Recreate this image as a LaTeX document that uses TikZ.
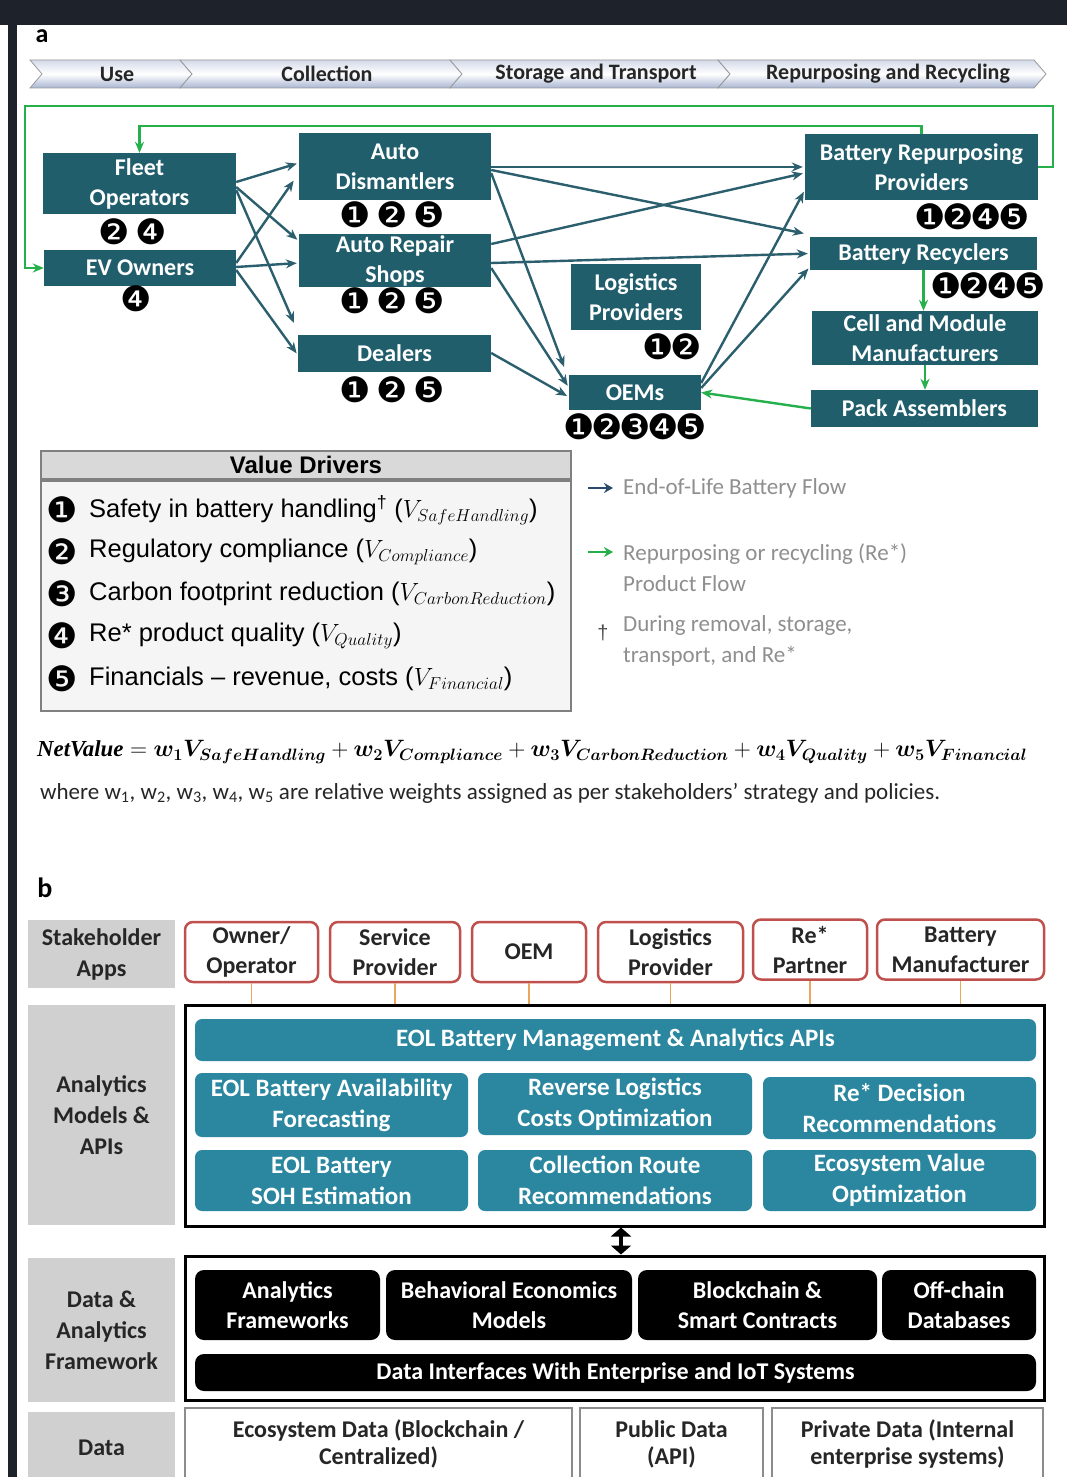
\documentclass[tikz,border=0pt]{standalone}
\usepackage{fontspec}
\usepackage{amsmath}
\usepackage{bm}
\usepackage{graphicx}
\setmainfont{Carlito}
\newfontfamily\dingfont[LetterSpace=-10]{DejaVu Sans}
\newfontfamily\arialfont{Liberation Sans}
\newfontfamily\seriffont{Liberation Serif}
\usetikzlibrary{arrows.meta,positioning,calc}

\definecolor{framedark}{HTML}{1E232B}
\definecolor{actorteal}{HTML}{215E6C}
\definecolor{flowteal}{HTML}{2B5F6D}
\definecolor{regreen}{HTML}{25B04B}
\definecolor{apiteal}{HTML}{2B87A0}
\definecolor{shred}{HTML}{C0504D}
\definecolor{stubtan}{HTML}{E8A75A}
\definecolor{labelgrey}{HTML}{D0D0D0}
\definecolor{legendgrey}{HTML}{8F8F8F}
\definecolor{legendnavy}{HTML}{2C4A6E}
\definecolor{phaseblue}{HTML}{A9B5D3}

\newcommand{\netvalue}{$\text{\seriffont\bfseries\itshape NetValue} = \bm{w_1V_{SafeHandling}} + \bm{w_2V_{Compliance}} + \bm{w_3V_{CarbonReduction}} + \bm{w_4V_{Quality}} + \bm{w_5V_{Financial}}$}

\tikzset{
  actor/.style={fill=actorteal, text=white, align=center, inner sep=0pt,
    font=\fontsize{24}{30}\selectfont\bfseries},
  badge/.style={inner sep=0pt, font=\fontsize{35}{35}\dingfont},
  eol/.style={draw=flowteal, line width=2.4pt, shorten >=2pt,
    -{Stealth[length=11pt,width=9pt]}},
  reflow/.style={draw=regreen, line width=2.4pt,
    -{Stealth[length=11pt,width=9pt]}},
  phase/.style={inner sep=0pt, text=black!85,
    font=\fontsize{22}{26}\selectfont\bfseries},
  vditem/.style={anchor=west, inner sep=0pt, font=\fontsize{25.5}{30}\arialfont},
  legend/.style={anchor=west, inner sep=0pt, align=left, text=legendgrey,
    font=\fontsize{23}{31}\selectfont},
  layerlabel/.style={fill=labelgrey, align=center, inner sep=0pt, minimum width=147pt,
    font=\fontsize{24}{31}\selectfont\bfseries, text=black!85},
  stakeholder/.style={draw=shred, line width=2.5pt, rounded corners=8pt, fill=white,
    align=center, inner sep=0pt, minimum height=60pt,
    font=\fontsize{24}{30}\selectfont\bfseries, text=black!85},
  stub/.style={draw=stubtan, line width=1.3pt},
  layerframe/.style={draw=black, line width=3pt, inner sep=0pt, minimum width=859pt},
  api/.style={fill=apiteal, text=white, rounded corners=7pt, align=center, inner sep=0pt,
    font=\fontsize{25}{31}\selectfont\bfseries},
  infra/.style={fill=black, text=white, rounded corners=9pt, align=center, inner sep=0pt,
    font=\fontsize{24}{30}\selectfont\bfseries},
  datasrc/.style={draw=black!45, line width=1.5pt, fill=white, align=center, inner sep=0pt,
    minimum height=72pt, font=\fontsize{24}{27}\selectfont\bfseries, text=black!85}
}

\begin{document}
\begin{tikzpicture}[x=1pt,y=-1pt]
    \useasboundingbox (0,0) rectangle (1067,1477);
    \clip (0,0) rectangle (1067,1477);
    \fill[white] (0,0) rectangle (1067,1477);

    % Outer frame of the figure
    \fill[framedark] (0,0) rectangle (1067,25);
    \fill[framedark] (8,0) rectangle (17,1477);

    % Panel labels
    \node[font=\fontsize{26}{26}\selectfont\bfseries] (pa) at (42,36) {a};
    \node[font=\fontsize{28}{28}\selectfont\bfseries] (pb) at (45,888) {b};

    % Life-cycle phases
    \foreach \xa/\xb/\lab/\nm in {30/192/Use/use, 180/462/Collection/coll,
        450/730/Storage and Transport/stor, 718/1046/Repurposing and Recycling/repu} {
      \shadedraw[draw=black!40, line width=0.8pt, top color=white!50!phaseblue, bottom color=phaseblue,
        middle color=white]
        (\xa,60) -- (\xb-12,60) -- (\xb,74) -- (\xb-12,88) -- (\xa,88) -- (\xa+12,74) -- cycle;
      \node[phase] (\nm) at ({(\xa+\xb)/2+6},74) {\lab};
    }

    % Stakeholders
    \node[actor, minimum width=193pt, minimum height=61pt] (fleet) at (139.5,183.5) {Fleet\\Operators};
    \node[actor, minimum width=192pt, minimum height=36pt] (ev) at (140,268) {EV Owners};
    \node[actor, minimum width=192pt, minimum height=67pt] (ad) at (395,166.5) {Auto\\Dismantlers};
    \node[actor, minimum width=192pt, minimum height=53pt] (ars) at (395,260.5) {Auto Repair\\Shops};
    \node[actor, minimum width=193pt, minimum height=37pt] (dealers) at (394.5,353.5) {Dealers};
    \node[actor, minimum width=130pt, minimum height=66pt] (logist) at (636,297) {Logistics\\Providers};
    \node[actor, minimum width=132pt, minimum height=35pt] (oems) at (635,392.5) {OEMs};
    \node[actor, minimum width=233pt, minimum height=66pt] (brp) at (921.5,167) {Battery Repurposing\\Providers};
    \node[actor, minimum width=227pt, minimum height=33pt] (recyc) at (923.5,253.5) {Battery Recyclers};
    \node[actor, minimum width=226pt, minimum height=54pt] (cell) at (925,338) {Cell and Module\\Manufacturers};
    \node[actor, minimum width=227pt, minimum height=37pt] (pack) at (924.5,408.5) {Pack Assemblers};

    % Value driver badges
    \node[badge] (fleetb) at (133,232) {❷\,❹};
    \node[badge] (evb) at (136,299) {❹};
    \node[badge] (adb) at (392,215) {❶\,❷\,❺};
    \node[badge] (arsb) at (392,301) {❶\,❷\,❺};
    \node[badge] (dealb) at (392,390) {❶\,❷\,❺};
    \node[badge] (logb) at (672,347) {❶❷};
    \node[badge] (oemb) at (635,427) {❶❷❸❹❺};
    \node[badge] (brpb) at (972,217) {❶❷❹❺};
    \node[badge] (recb) at (988,286) {❶❷❹❺};

    % End-of-life battery flow
    \draw[eol] ([yshift=1.5pt]fleet.east) -- ([yshift=3.5pt]ad.west);
    \draw[eol] ([yshift=-3.5pt]fleet.east) -- ([yshift=19.5pt]ars.west);
    \draw[eol] ([yshift=-6.5pt]fleet.east) -- ([xshift=-3pt,yshift=10pt]dealers.north west);
    \draw[eol] ([yshift=5pt]ev.east) -- ([xshift=-4pt,yshift=-12.5pt]ad.west);
    \draw[eol] ([yshift=1pt]ev.east) -- ([yshift=-2.5pt]ars.west);
    \draw[eol] ([yshift=-2pt]ev.east) -- ([yshift=-1.5pt]dealers.west);
    \draw[eol] ([yshift=-0.5pt]ad.east) -- (brp.west);
    \draw[eol] ([yshift=-3.5pt]ad.east) -- ([xshift=-4pt,yshift=3pt]recyc.north west);
    \draw[eol] ([yshift=-6.5pt]ad.east) -- ([xshift=-4pt,yshift=6pt]oems.north west);
    \draw[eol] ([yshift=16.5pt]ars.east) -- ([yshift=-6pt]brp.west);
    \draw[eol] ([yshift=-2.5pt]ars.east) -- (recyc.west);
    \draw[eol] ([yshift=-7.5pt]ars.east) -- ([yshift=5pt]oems.west);
    \draw[eol] ([yshift=0.5pt]dealers.east) -- ([yshift=-4.5pt]oems.west);
    \draw[eol] ([yshift=9.5pt]oems.east) -- ([yshift=-23pt]brp.west);
    \draw[eol] ([yshift=4.5pt]oems.east) -- ([yshift=-13.5pt]recyc.west);

    % Re* product flow
    \draw[reflow] (brp.east) -- ++(15,0) |- (25,106) |- (ev.west);
    \draw[reflow] (brp.north) -- ++(0,-8) -| (fleet.north);
    \draw[reflow] (recyc.south) -- (recyc.south |- cell.north);
    \draw[reflow] (cell.south) -- (cell.south |- pack.north);
    \draw[reflow] (pack.west) -- (oems.east);

    % Value drivers
    \node[fill=black!15, draw=black!50, line width=2pt, minimum width=530pt, minimum height=28pt,
      anchor=north west, inner sep=0pt, font=\fontsize{24}{24}\arialfont\bfseries] (vdhead) at (40,450) {Value Drivers};
    \node[fill=black!4, draw=black!50, line width=2pt, minimum width=530pt, minimum height=230pt,
      anchor=north west, inner sep=0pt] (vdbody) at (vdhead.south west) {};
    \node[badge] (vd1n) at (62,510) {❶};
    \node[vditem] (vd1) at (89,510) {Safety in battery handling\textsuperscript{†} ($V_{SafeHandling}$)};
    \node[badge] (vd2n) at (62,552) {❷};
    \node[vditem] (vd2) at (89,552) {Regulatory compliance ($V_{Compliance}$)};
    \node[badge] (vd3n) at (62,594) {❸};
    \node[vditem] (vd3) at (89,594) {Carbon footprint reduction ($V_{CarbonReduction}$)};
    \node[badge] (vd4n) at (62,636) {❹};
    \node[vditem] (vd4) at (89,636) {Re* product quality ($V_{Quality}$)};
    \node[badge] (vd5n) at (62,679) {❺};
    \node[vditem] (vd5) at (89,679) {Financials – revenue, costs ($V_{Financial}$)};

    % Legend
    \node[legend] (lgeol) at (623,488) {End-of-Life Battery Flow};
    \coordinate (lgeola) at (588,488);
    \draw[draw=legendnavy, line width=2.6pt, -{Stealth[length=9pt,width=10pt]}, shorten >=10pt] (lgeola) -- (lgeol.west);
    \node[legend] (lgre) at (623,568) {Repurposing or recycling (Re*)\\Product Flow};
    \coordinate (lgrea) at (588,552);
    \coordinate (lgreb) at (lgre.west |- lgrea);
    \draw[draw=regreen, line width=2.6pt, -{Stealth[length=9pt,width=10pt]}, shorten >=10pt] (lgrea) -- (lgreb);
    \node[legend] (lgdag) at (623,641) {During removal, storage,\\transport, and Re*};
    \node[text=black!70, font=\fontsize{20}{20}\arialfont] (dag) at (603,633) {†};

    % Net value
    \node[anchor=west, inner sep=0pt, font=\fontsize{24}{28}\selectfont] (netv) at (37,752) {\resizebox{990pt}{!}{\netvalue}};
    \node[anchor=west, inner sep=0pt, text=black!85, font=\fontsize{23}{27}\selectfont] (where) at (40,793) {where w\textsubscript{1}, w\textsubscript{2}, w\textsubscript{3}, w\textsubscript{4}, w\textsubscript{5} are relative weights assigned as per stakeholders’ strategy and policies.};

    % Layer labels
    \node[layerlabel, minimum height=68pt] (lapps) at (101.5,954) {Stakeholder\\Apps};
    \node[layerlabel, minimum height=220pt] (lmod) at (101.5,1115) {Analytics\\Models \&\\APIs};
    \node[layerlabel, minimum height=144pt] (lfw) at (101.5,1330) {Data \&\\Analytics\\Framework};
    \node[layerlabel, minimum height=72pt] (ldata) at (101.5,1448) {Data};

    % Stakeholder apps
    \node[stakeholder, minimum width=133pt] (owner) at (251.5,952) {Owner/\\Operator};
    \node[stakeholder, minimum width=130pt] (service) at (395,952) {Service\\Provider};
    \node[stakeholder, minimum width=114pt] (oemapp) at (529,952) {OEM};
    \node[stakeholder, minimum width=145pt] (logapp) at (670.5,952) {Logistics\\Provider};
    \node[stakeholder, minimum width=114pt] (reapp) at (810,949.5) {Re*\\Partner};
    \node[stakeholder, minimum width=167pt] (batapp) at (960.5,949.5) {Battery\\Manufacturer};

    % Analytics models and APIs
    \node[layerframe, minimum height=221pt] (anaframe) at (614.5,1115.5) {};
    \foreach \nm in {owner, service, oemapp, logapp, reapp, batapp}
      \draw[stub] (\nm.south) -- (\nm.south |- anaframe.north);
    \node[api, minimum width=841pt, minimum height=42pt] (eolapi) at (615.5,1040) {EOL Battery Management \& Analytics APIs};
    \node[api, minimum width=273pt, minimum height=64pt] (avail) at (331.5,1105) {EOL Battery Availability\\Forecasting};
    \node[api, minimum width=274pt, minimum height=62pt] (revlog) at (615,1104) {Reverse Logistics\\Costs Optimization};
    \node[api, minimum width=273pt, minimum height=62pt] (redec) at (899.5,1108) {Re* Decision\\Recommendations};
    \node[api, minimum width=273pt, minimum height=61pt] (soh) at (331.5,1180.5) {EOL Battery\\SOH Estimation};
    \node[api, minimum width=274pt, minimum height=61pt] (route) at (615,1180.5) {Collection Route\\Recommendations};
    \node[api, minimum width=273pt, minimum height=61pt] (ecoval) at (899.5,1180.5) {Ecosystem Value\\Optimization};

    % Data and analytics framework
    \node[layerframe, minimum height=144pt] (dataframe) at (614.5,1328) {};
    \draw[line width=3.5pt, {Triangle[length=9pt,width=20pt]}-{Triangle[length=9pt,width=20pt]}]
      ([xshift=6.5pt]anaframe.south) -- ([xshift=6.5pt]dataframe.north);
    \node[infra, minimum width=185pt, minimum height=70pt] (anfw) at (287.5,1305) {Analytics\\Frameworks};
    \node[infra, minimum width=246pt, minimum height=70pt] (behav) at (509,1305) {Behavioral Economics\\Models};
    \node[infra, minimum width=239pt, minimum height=70pt] (chain) at (757.5,1305) {Blockchain \&\\Smart Contracts};
    \node[infra, minimum width=154pt, minimum height=70pt] (offch) at (959,1305) {Off-chain\\Databases};
    \node[infra, minimum width=841pt, minimum height=37pt] (iface) at (615.5,1372.5) {Data Interfaces With Enterprise and IoT Systems};

    % Data sources
    \node[datasrc, minimum width=387pt] (ecodata) at (378.5,1444) {Ecosystem Data (Blockchain /\\Centralized)};
    \node[datasrc, minimum width=183pt] (pubdata) at (671.5,1444) {Public Data\\(API)};
    \node[datasrc, minimum width=271pt] (privdata) at (907.5,1444) {Private Data (Internal\\enterprise systems)};
\end{tikzpicture}
\end{document}
